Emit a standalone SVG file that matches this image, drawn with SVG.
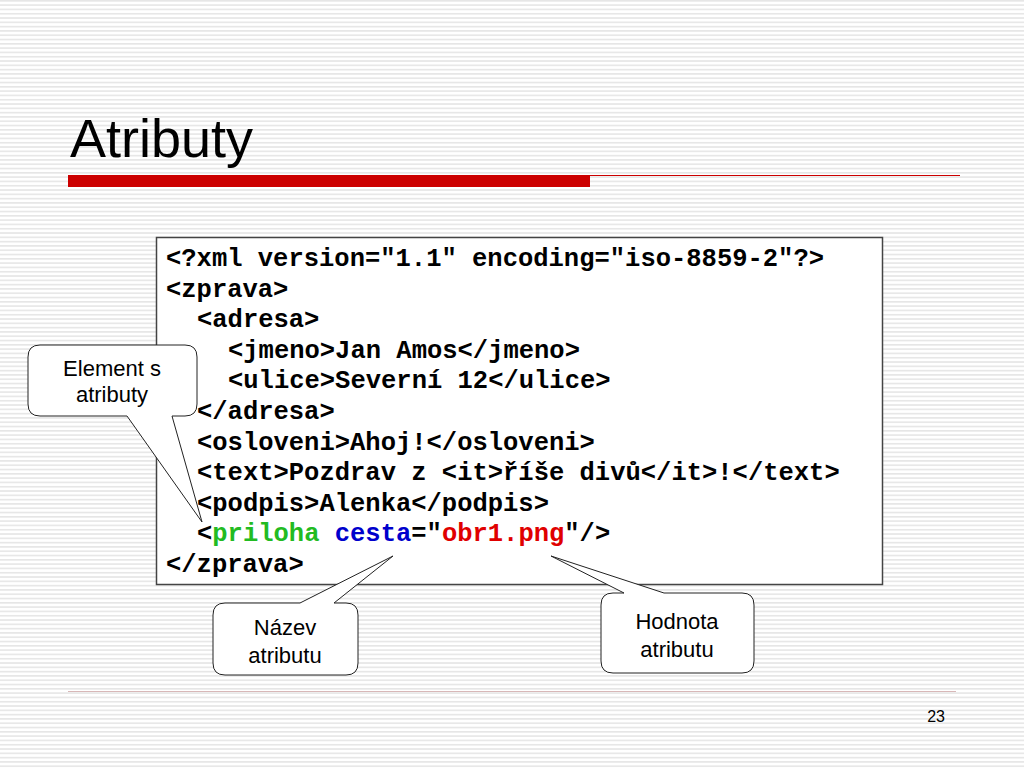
<svg xmlns="http://www.w3.org/2000/svg" width="1024" height="768" viewBox="0 0 1024 768">
<defs>
<pattern id="stripes" patternUnits="userSpaceOnUse" width="1024" height="4.3">
<rect x="0" y="0" width="1024" height="1.6" fill="#e6e6e6"/>
</pattern>
<style>
.code{font-family:"Liberation Mono","Courier New",monospace;font-weight:bold;font-size:25.5px;fill:#000}
.lbl{font-family:"Liberation Sans",Arial,sans-serif;font-size:22px;fill:#000;text-anchor:middle}
.bubble{fill:#fff;stroke:#222;stroke-width:1}
.g{fill:#22bb22}.b{fill:#0000cc}.r{fill:#e00000}
</style>
</defs>
<rect width="1024" height="768" fill="#fff"/>
<rect width="1024" height="768" fill="url(#stripes)"/>
<g id="title">
<text x="70" y="157" font-family="Liberation Sans, Arial, sans-serif" font-size="54" fill="#000">Atributy</text>
<rect x="68" y="175" width="522" height="12" fill="#cc0000"/>
<line x1="590" y1="175.5" x2="960" y2="175.5" stroke="#cc0000" stroke-width="1"/>
</g>
<g id="codebox">
<rect x="156.5" y="237.5" width="726" height="347" fill="#fff" stroke="#444" stroke-width="1.5"/>
<text class="code" x="166" y="266">&lt;?xml version="1.1" encoding="iso-8859-2"?&gt;</text>
<text class="code" x="166" y="296.6">&lt;zprava&gt;</text>
<text class="code" x="197" y="327.2">&lt;adresa&gt;</text>
<text class="code" x="228" y="357.8">&lt;jmeno&gt;Jan Amos&lt;/jmeno&gt;</text>
<text class="code" x="228" y="388.4">&lt;ulice&gt;Severní 12&lt;/ulice&gt;</text>
<text class="code" x="197" y="419">&lt;/adresa&gt;</text>
<text class="code" x="197" y="449.6">&lt;osloveni&gt;Ahoj!&lt;/osloveni&gt;</text>
<text class="code" x="197" y="480.2">&lt;text&gt;Pozdrav z &lt;it&gt;říše divů&lt;/it&gt;!&lt;/text&gt;</text>
<text class="code" x="197" y="510.8">&lt;podpis&gt;Alenka&lt;/podpis&gt;</text>
<text class="code" x="197" y="541.4" xml:space="preserve">&lt;<tspan class="g">priloha</tspan> <tspan class="b">cesta</tspan>="<tspan class="r">obr1.png</tspan>"/&gt;</text>
<text class="code" x="166" y="572">&lt;/zprava&gt;</text>
</g>
<g id="callout-element">
<path class="bubble" d="M40,345 H185 Q197,345 197,357 V404 Q197,416 185,416 H172 L202,522 L127,416 H40 Q28,416 28,404 V357 Q28,345 40,345 Z"/>
<text class="lbl" x="112" y="376">Element s</text>
<text class="lbl" x="112" y="402">atributy</text>
</g>
<g id="callout-nazev">
<path class="bubble" d="M225,603 H300 L393,556 L334,603 H346 Q358,603 358,615 V663 Q358,675 346,675 H225 Q213,675 213,663 V615 Q213,603 225,603 Z"/>
<text class="lbl" x="285" y="635">Název</text>
<text class="lbl" x="285" y="663">atributu</text>
</g>
<g id="callout-hodnota">
<path class="bubble" d="M613,593 H624 L551,556 L664,593 H742 Q754,593 754,605 V661 Q754,673 742,673 H613 Q601,673 601,661 V605 Q601,593 613,593 Z"/>
<text class="lbl" x="677" y="629">Hodnota</text>
<text class="lbl" x="677" y="657">atributu</text>
</g>
<g id="footer">
<line x1="68" y1="691.5" x2="956" y2="691.5" stroke="#d8b8b8" stroke-width="1"/>
<text x="945" y="722" font-family="Liberation Sans, Arial, sans-serif" font-size="16" text-anchor="end" fill="#000">23</text>
</g>
</svg>
